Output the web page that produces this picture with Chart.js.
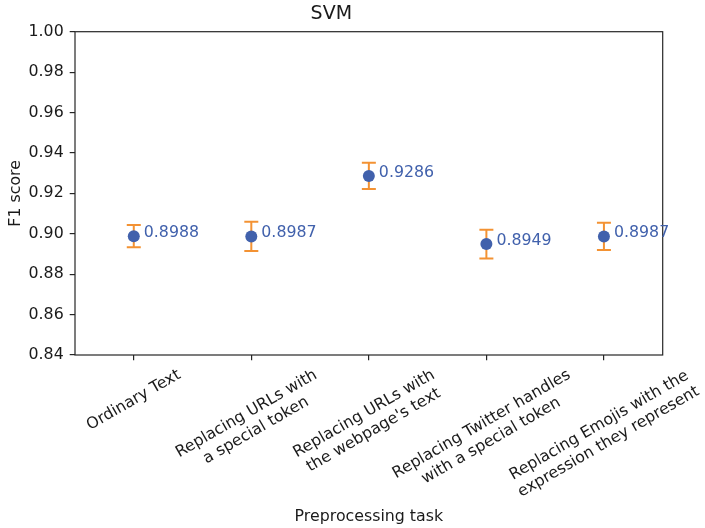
<!DOCTYPE html>
<html>
<head>
<meta charset="utf-8">
<script src="https://cdn.jsdelivr.net/npm/chart.js@4/dist/chart.umd.min.js"></script>
<style>
  html, body { margin: 0; padding: 0; background: #fff; }
  #wrap { width: 705px; height: 528px; }
</style>
</head>
<body>
<div id="wrap"><canvas id="chart"></canvas></div>
<script>
// Preprocessing tasks (multi-line category labels)
const categories = [
  ["Ordinary Text"],
  ["Replacing URLs with", "a special token"],
  ["Replacing URLs with", "the webpage's text"],
  ["Replacing Twitter handles", "with a special token"],
  ["Replacing Emojis with the", "expression they represent"]
];
// Mean F1 score per task and its error (half-length of the bar)
const f1Scores = [0.8988, 0.8987, 0.9286, 0.8949, 0.8987];
const f1Errors = [0.0055, 0.0072, 0.0065, 0.0071, 0.0067];
// Y axis tick values
const yTickValues = [0.84, 0.86, 0.88, 0.90, 0.92, 0.94, 0.96, 0.98, 1.00];

const FONT = "'DejaVu Sans', 'Liberation Sans', sans-serif";
const BLUE = '#4161ac';
const ORANGE = '#f39233';
const INK = '#1a1a1a';
const AXIS = '#262626';

const TICK_LEN = 5.3;
const TICK_PAD = 5.3;
const LABEL_SIZE = 15.8;
const LINE_H = 19;
const ROT = 30 * Math.PI / 180;

// Full box around the plotting area
const framePlugin = {
  id: 'frame',
  beforeDatasetsDraw(chart) {
    const { ctx, chartArea: a } = chart;
    ctx.save();
    ctx.strokeStyle = AXIS;
    ctx.lineWidth = 1.2;
    ctx.strokeRect(a.left, a.top, a.right - a.left, a.bottom - a.top);
    ctx.restore();
  }
};

// Vertical error bars with caps, drawn below the markers
const errorBarPlugin = {
  id: 'errorBars',
  beforeDatasetsDraw(chart) {
    const { ctx, scales: { x, y } } = chart;
    ctx.save();
    ctx.strokeStyle = ORANGE;
    ctx.lineWidth = 2;
    ctx.lineCap = 'butt';
    f1Scores.forEach((v, i) => {
      const px = x.getPixelForValue(i);
      const top = y.getPixelForValue(v + f1Errors[i]);
      const bot = y.getPixelForValue(v - f1Errors[i]);
      ctx.beginPath();
      ctx.moveTo(px, top); ctx.lineTo(px, bot);
      ctx.moveTo(px - 7, top); ctx.lineTo(px + 7, top);
      ctx.moveTo(px - 7, bot); ctx.lineTo(px + 7, bot);
      ctx.stroke();
    });
    ctx.restore();
  }
};

// Score text next to each marker
const valueLabelPlugin = {
  id: 'valueLabels',
  afterDatasetsDraw(chart) {
    const { ctx, scales: { x, y } } = chart;
    ctx.save();
    ctx.font = `${LABEL_SIZE}px ${FONT}`;
    ctx.fillStyle = BLUE;
    ctx.textAlign = 'left';
    ctx.textBaseline = 'alphabetic';
    f1Scores.forEach((v, i) => {
      ctx.fillText(v.toFixed(4), x.getPixelForValue(i) + 10, y.getPixelForValue(v) + 1);
    });
    ctx.restore();
  }
};

// Rotated, centred category labels under the x axis
const categoryLabelPlugin = {
  id: 'categoryLabels',
  afterDraw(chart) {
    const { ctx, scales: { x }, chartArea: a } = chart;
    ctx.save();
    ctx.font = `${LABEL_SIZE}px ${FONT}`;
    ctx.fillStyle = INK;
    ctx.textAlign = 'center';
    ctx.textBaseline = 'middle';
    const top = a.bottom + TICK_LEN + TICK_PAD;
    categories.forEach((lines, i) => {
      const W = Math.max(...lines.map(l => ctx.measureText(l).width));
      const H = lines.length * LINE_H;
      const halfH = (W / 2) * Math.sin(ROT) + (H / 2) * Math.cos(ROT);
      const cx = x.getPixelForValue(i);
      const cy = top + halfH;
      ctx.save();
      ctx.translate(cx, cy);
      ctx.rotate(-ROT);
      lines.forEach((l, k) => {
        ctx.fillText(l, 0, -H / 2 + (k + 0.5) * LINE_H);
      });
      ctx.restore();
    });
    ctx.restore();
  }
};

new Chart(document.getElementById('chart'), {
  type: 'line',
  data: {
    labels: categories,
    datasets: [{
      data: f1Scores,
      showLine: false,
      pointRadius: 6,
      pointHoverRadius: 6,
      pointBackgroundColor: BLUE,
      pointBorderWidth: 0,
      borderColor: BLUE
    }]
  },
  options: {
    responsive: true,
    maintainAspectRatio: false,
    animation: false,
    events: [],
    layout: { padding: { left: 0, right: 42.3, top: 0, bottom: 0 } },
    plugins: {
      legend: { display: false },
      tooltip: { enabled: false },
      title: {
        display: true,
        text: 'SVM',
        color: INK,
        font: { family: FONT, size: 19, weight: 'normal' },
        padding: { top: 3, bottom: 5.9 }
      }
    },
    scales: {
      x: {
        type: 'category',
        offset: true,
        grid: {
          display: true,
          drawOnChartArea: false,
          drawTicks: true,
          tickLength: TICK_LEN,
          color: AXIS,
          lineWidth: 1.2
        },
        border: { display: false },
        ticks: { display: false },
        title: {
          display: true,
          text: 'Preprocessing task',
          color: INK,
          font: { family: FONT, size: LABEL_SIZE },
          padding: { top: 0, bottom: 1.5 }
        },
        afterFit(scale) { scale.height = 173; }
      },
      y: {
        min: 0.84,
        max: 1.0,
        afterBuildTicks(scale) { scale.ticks = yTickValues.map(v => ({ value: v })); },
        grid: {
          display: true,
          drawOnChartArea: false,
          drawTicks: true,
          tickLength: TICK_LEN,
          color: AXIS,
          lineWidth: 1.2
        },
        border: { display: false },
        ticks: {
          color: INK,
          padding: 6,
          font: { family: FONT, size: LABEL_SIZE },
          callback: v => Number(v).toFixed(2)
        },
        title: {
          display: true,
          text: 'F1 score',
          color: INK,
          font: { family: FONT, size: LABEL_SIZE },
          padding: { top: 6, bottom: 0 }
        },
        afterFit(scale) { scale.width = 75; }
      }
    }
  },
  plugins: [framePlugin, errorBarPlugin, valueLabelPlugin, categoryLabelPlugin]
});
</script>
</body>
</html>
